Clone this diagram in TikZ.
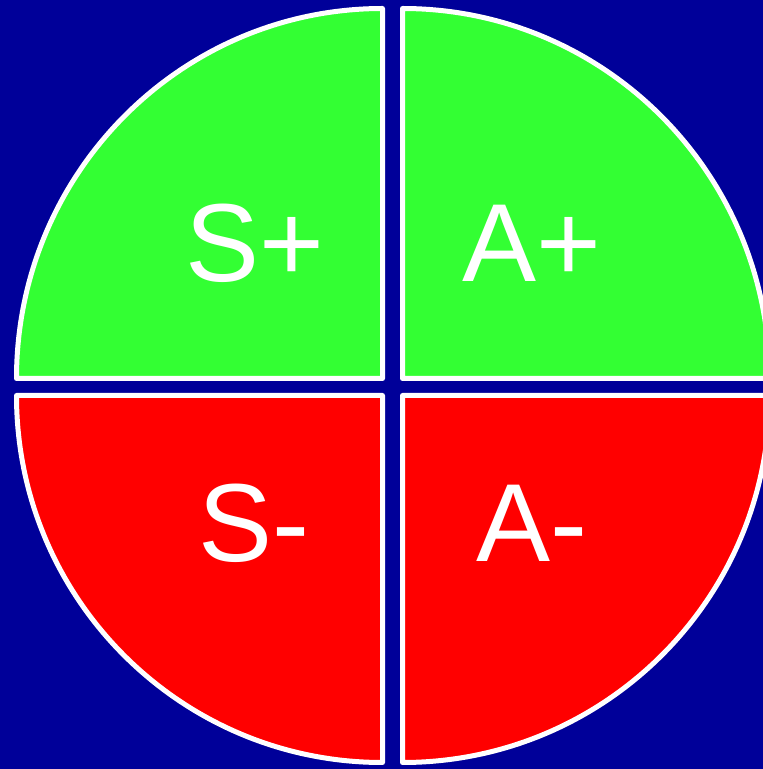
\documentclass[tikz,border=0pt]{standalone}
\usepackage{fontspec}
\setmainfont{Liberation Sans}
\definecolor{bgblue}{HTML}{000099}
\definecolor{secgreen}{HTML}{33FF33}
\definecolor{secred}{HTML}{FF0000}
\begin{document}
\begin{tikzpicture}[x=1pt,y=1pt,
  sector/.style={draw=white,line width=5pt,line join=round},
  lbl/.style={text=white,font=\fontsize{111}{111}\selectfont,inner sep=0pt,anchor=center}]
\clip (0,0) rectangle (763,769);
\fill[bgblue] (0,0) rectangle (763,769);
% top-left
\path[sector,fill=secgreen] (382.5,390.5) -- (16.5,390.5) arc[start angle=180,end angle=90,x radius=366,y radius=370] -- cycle;
% top-right
\path[sector,fill=secgreen] (402.5,390.5) -- (402.5,760.5) arc[start angle=90,end angle=0,x radius=367,y radius=370] -- cycle;
% bottom-left
\path[sector,fill=secred] (382.5,373.5) -- (16.5,373.5) arc[start angle=180,end angle=270,x radius=366,y radius=367] -- cycle;
% bottom-right
\path[sector,fill=secred] (402.5,373.5) -- (402.5,6.5) arc[start angle=270,end angle=360,x radius=367,y radius=367] -- cycle;
\node[lbl] (sp) at (255,526) {S+};
\node[lbl] (ap) at (532,526) {A+};
\node[lbl] (sm) at (254,246) {S-};
\node[lbl] (am) at (532,246) {A-};
\end{tikzpicture}
\end{document}
